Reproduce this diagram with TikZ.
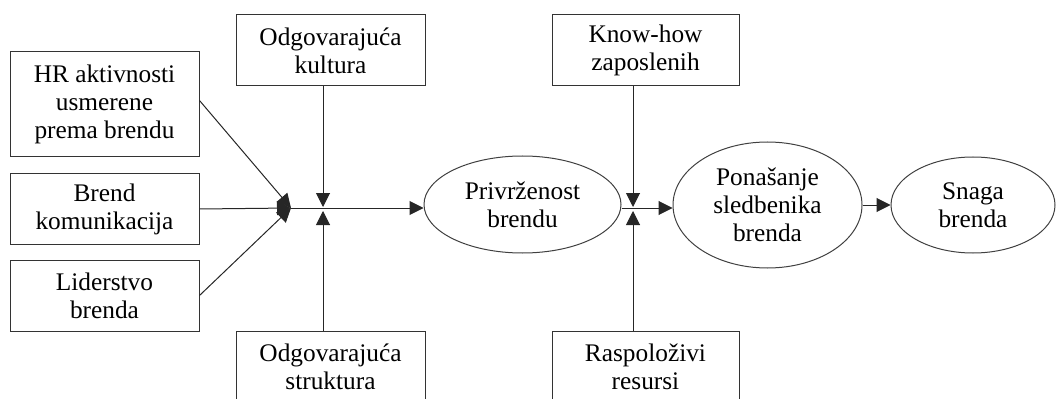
\documentclass[tikz,border=0pt]{standalone}
\usepackage{fontspec}
\setmainfont{Liberation Serif}
\usetikzlibrary{arrows.meta,shapes.geometric,calc}

\begin{document}
\begin{tikzpicture}[x=0.75pt, y=-0.75pt,
  line width=0.75pt,
  box/.style={draw=black!80, align=center, inner sep=0pt, font=\fontsize{19}{21}\selectfont, minimum width=141.75pt},
  oval/.style={draw=black!75, ellipse, align=center, inner sep=0pt, font=\fontsize{19}{21}\selectfont},
  arr/.style={-{Triangle[length=10.5pt, width=10.5pt]}, draw=black!85}]
\useasboundingbox (0,0) rectangle (1056,399);
% left column
\node[box, minimum height=78.75pt] (hr) at (104.5,104.5) {HR aktivnosti\\usmerene\\prema brendu};
\node[box, minimum height=52.5pt] (komunik) at (104.5,209) {Brend\\komunikacija};
\node[box, minimum height=53.25pt] (lider) at (104.5,295.5) {Liderstvo\\brenda};
% top and bottom boxes
\node[box, minimum height=53.25pt] (kultura) at (330.5,50.5) {Odgovarajuća\\kultura};
\node[box, minimum height=53.25pt] (struktura) at (330.5,366.5) {Odgovarajuća\\struktura};
\node[box, minimum width=140.25pt, minimum height=53.25pt] (knowhow) at (645.5,50.5) {Know-how\\zaposlenih};
\node[box, minimum width=140.25pt, minimum height=53.25pt] (resursi) at (645.5,366.5) {Raspoloživi\\resursi};
% ellipses
\node[oval, minimum width=147.75pt, minimum height=72.75pt] (privr) at (522.5,204.5) {Privrženost\\brendu};
\node[oval, minimum width=141.75pt, minimum height=94.5pt] (ponas) at (767.5,205) {Ponašanje\\sledbenika\\brenda};
\node[oval, minimum width=123pt, minimum height=72pt] (snaga) at (973,205) {Snaga\\brenda};
% junctions
\coordinate (j1) at (291,208);
\coordinate (j2) at (323,208);
\coordinate (j3) at (633,208);
\draw[arr] ($(hr.east)+(0,-4)$) -- (j1);
\draw[arr] (komunik.east) -- (j1);
\draw[arr] (lider.east) -- (j1);
\draw[arr] (j1) -- (j1 -| privr.west);
\draw[arr, shorten >=0.75pt] (kultura.south -| j2) -- (j2);
\draw[arr, shorten >=2.25pt] (struktura.north -| j2) -- (j2);
\draw[arr] (j3 -| privr.east) -- (j3 -| ponas.west);
\draw[arr, shorten >=0.75pt] (knowhow.south -| j3) -- (j3);
\draw[arr, shorten >=2.25pt] (resursi.north -| j3) -- (j3);
\draw[arr] (ponas.east) -- (snaga.west);
\end{tikzpicture}
\end{document}
